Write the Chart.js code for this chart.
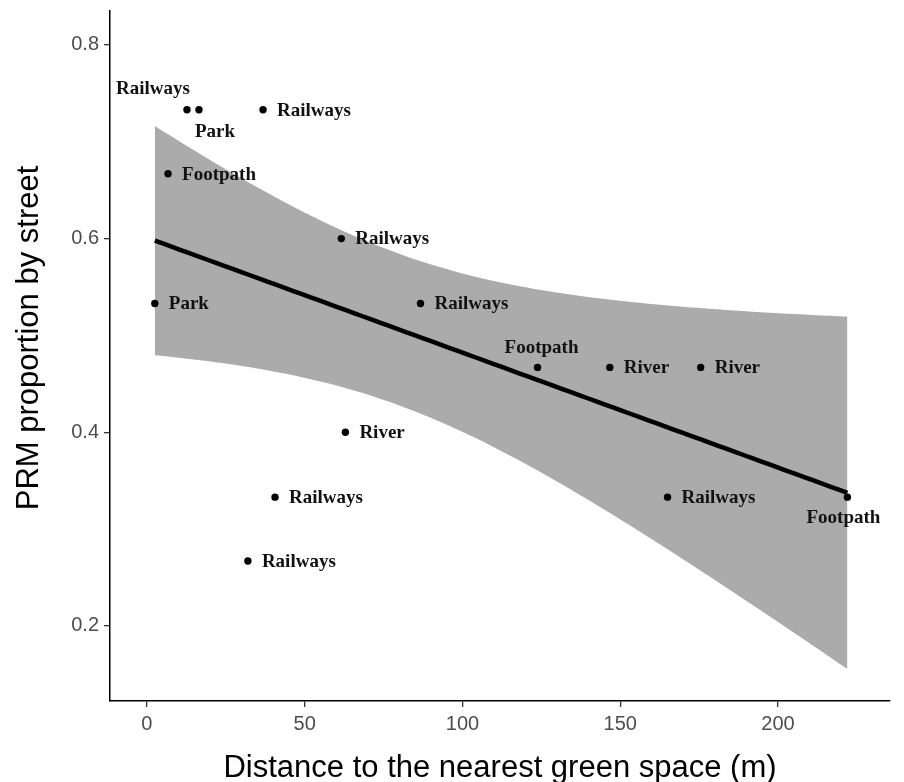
<!DOCTYPE html>
<html>
<head>
<meta charset="utf-8">
<script src="https://cdn.jsdelivr.net/npm/chart.js@4.4.1/dist/chart.umd.min.js"></script>
<style>
  html, body { margin: 0; padding: 0; background: #fff; }
  #wrap { width: 904px; height: 782px; }
</style>
</head>
<body>
<div id="wrap"><canvas id="prmChart" width="904" height="782"></canvas></div>
<script>
// distance to nearest green space (m) and PRM proportion, one entry per street
const distance   = [12.7, 16.5, 36.8, 6.7, 61.6, 2.5, 86.7, 123.8, 146.7, 175.5, 62.9, 40.6, 165.0, 222.0, 32.0];
const proportion = [0.733, 0.733, 0.733, 0.667, 0.600, 0.533, 0.533, 0.467, 0.467, 0.467, 0.400, 0.333, 0.333, 0.333, 0.267];
const greenType  = ['Railways', 'Park', 'Railways', 'Footpath', 'Railways', 'Park', 'Railways', 'Footpath',
                    'River', 'River', 'River', 'Railways', 'Railways', 'Footpath', 'Railways'];
const xTicks = [0, 50, 100, 150, 200];
const yTicks = [0.2, 0.4, 0.6, 0.8];

(function () {
  // linear model + 95% confidence band (like geom_smooth(method = "lm"))
  const n = distance.length;
  const mx = distance.reduce((a, b) => a + b, 0) / n;
  const my = proportion.reduce((a, b) => a + b, 0) / n;
  let sxx = 0, sxy = 0;
  for (let i = 0; i < n; i++) {
    sxx += (distance[i] - mx) ** 2;
    sxy += (distance[i] - mx) * (proportion[i] - my);
  }
  const slope = sxy / sxx;
  const icpt = my - slope * mx;
  let rss = 0;
  for (let i = 0; i < n; i++) rss += (proportion[i] - (icpt + slope * distance[i])) ** 2;
  const s = Math.sqrt(rss / (n - 2));
  const tCrit = 2.160369; // qt(0.975, df = 13)

  const x0 = Math.min(...distance), x1 = Math.max(...distance);
  const fit = [], upper = [], lower = [];
  for (let k = 0; k <= 80; k++) {
    const x = x0 + (x1 - x0) * k / 80;
    const yhat = icpt + slope * x;
    const se = s * Math.sqrt(1 / n + (x - mx) ** 2 / sxx);
    fit.push({ x: x, y: yhat });
    upper.push({ x: x, y: yhat + tCrit * se });
    lower.push({ x: x, y: yhat - tCrit * se });
  }
  const pts = distance.map((d, i) => ({ x: d, y: proportion[i] }));

  // label nudges in px (dx, dy, align) - mimic the repelled labels
  const nudge = {
    0:  [-34, -21, 'center'],
    1:  [16, 22, 'center'],
    7:  [4, -19, 'center'],
    13: [-4, 21, 'center']
  };

  const labelPlugin = {
    id: 'pointLabels',
    afterDatasetsDraw(chart) {
      const ctx = chart.ctx;
      const xs = chart.scales.x, ys = chart.scales.y;
      ctx.save();
      ctx.font = 'bold 19px "Liberation Serif", "Times New Roman", serif';
      ctx.fillStyle = '#111';
      ctx.textBaseline = 'middle';
      greenType.forEach((lab, i) => {
        const px = xs.getPixelForValue(distance[i]);
        const py = ys.getPixelForValue(proportion[i]);
        const nd = nudge[i] || [14, 1, 'left'];
        ctx.textAlign = nd[2];
        ctx.fillText(lab, px + nd[0], py + nd[1]);
      });
      ctx.restore();
    }
  };

  const titlePlugin = {
    id: 'axisTitles',
    afterDraw(chart) {
      const ctx = chart.ctx;
      const area = chart.chartArea;
      ctx.save();
      ctx.fillStyle = '#000';
      ctx.font = '31px "Liberation Sans", Arial, sans-serif';
      ctx.textAlign = 'center';
      ctx.textBaseline = 'alphabetic';
      ctx.fillText('Distance to the nearest green space (m)', (area.left + area.right) / 2, 777);
      ctx.translate(38, 338);
      ctx.rotate(-Math.PI / 2);
      ctx.fillText('PRM proportion by street', 0, 0);
      ctx.restore();
    }
  };

  const tickFont = { family: '"Liberation Sans", Arial, sans-serif', size: 20 };

  new Chart(document.getElementById('prmChart').getContext('2d'), {
    type: 'scatter',
    data: {
      datasets: [
        {
          label: 'points',
          data: pts,
          order: 0,
          pointRadius: 3.7,
          pointHoverRadius: 3.7,
          pointBackgroundColor: '#000',
          pointBorderWidth: 0
        },
        {
          label: 'fit',
          data: fit,
          order: 1,
          showLine: true,
          borderColor: '#000',
          borderWidth: 4.5,
          pointRadius: 0,
          fill: false
        },
        {
          label: 'upper',
          data: upper,
          order: 2,
          showLine: true,
          borderWidth: 0,
          borderColor: 'rgba(0,0,0,0)',
          pointRadius: 0,
          backgroundColor: '#ababab',
          fill: '+1'
        },
        {
          label: 'lower',
          data: lower,
          order: 3,
          showLine: true,
          borderWidth: 0,
          borderColor: 'rgba(0,0,0,0)',
          pointRadius: 0,
          fill: false
        }
      ]
    },
    options: {
      responsive: false,
      animation: false,
      events: [],
      layout: { padding: { top: 11, right: 14, left: 0, bottom: 0 } },
      plugins: {
        legend: { display: false },
        tooltip: { enabled: false }
      },
      scales: {
        x: {
          type: 'linear',
          min: -11.7,
          max: 235.5,
          afterBuildTicks: (ax) => { ax.ticks = xTicks.map(v => ({ value: v })); },
          afterFit: (ax) => { ax.height = 81; ax.paddingLeft = 0; ax.paddingRight = 0; },
          ticks: { font: tickFont, color: '#4d4d4d', padding: 5, maxRotation: 0 },
          grid: { display: true, drawOnChartArea: false, drawTicks: true, tickLength: 6, color: '#333', lineWidth: 1.3 },
          border: { display: true, color: '#000', width: 1.5 }
        },
        y: {
          type: 'linear',
          min: 0.1225,
          max: 0.835,
          afterBuildTicks: (ax) => { ax.ticks = yTicks.map(v => ({ value: v })); },
          afterFit: (ax) => { ax.width = 110; ax.paddingTop = 0; ax.paddingBottom = 0; },
          ticks: { font: tickFont, color: '#4d4d4d', padding: 5, callback: (v) => v.toFixed(1) },
          grid: { display: true, drawOnChartArea: false, drawTicks: true, tickLength: 6, color: '#333', lineWidth: 1.3 },
          border: { display: true, color: '#000', width: 1.5 }
        }
      }
    },
    plugins: [labelPlugin, titlePlugin]
  });
})();
</script>
</body>
</html>
